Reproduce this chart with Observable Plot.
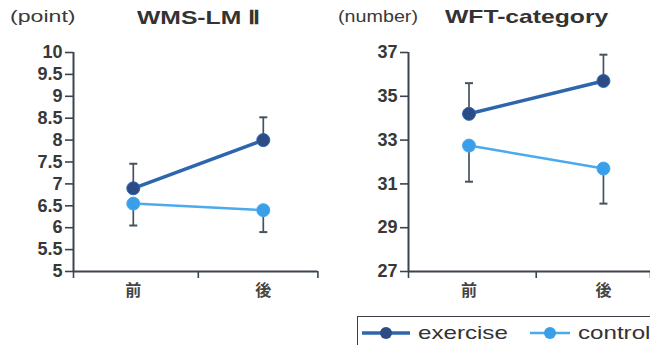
<!DOCTYPE html>
<html>
<head>
<meta charset="utf-8">
<script src="https://cdn.jsdelivr.net/npm/d3@7"></script>
<script src="https://cdn.jsdelivr.net/npm/@observablehq/plot@0.6"></script>
<style>
  body { margin: 0; background: #fff; }
  #fig { position: relative; width: 650px; height: 345px; overflow: hidden;
         font-family: "Liberation Sans", Arial, sans-serif; color: #333; }
  .panel { position: absolute; top: 0; }
  .unit { position: absolute; top: 7px; font-size: 17px; color: #3a3a3a; white-space: nowrap;
          transform: scaleX(1.36); transform-origin: left center; }
  .title { position: absolute; top: 6px; font-size: 19px; font-weight: bold; color: #333; white-space: nowrap;
           transform: scaleX(1.3); transform-origin: left center; }
  #legend { position: absolute; left: 357px; top: 316px; width: 310px; height: 40px;
            border: 1.5px solid #3a3f47; box-sizing: border-box; }
  .item { position: absolute; top: 5px; display: flex; align-items: center; font-size: 19px; color: #333; }
  .item svg { margin-right: 8px; }
  .item span { display: inline-block; transform: scaleX(1.27); transform-origin: left center; }
</style>
</head>
<body>
<div id="fig">
  <div class="panel" id="left"></div>
  <div class="panel" id="right" style="left:325px"></div>
  <div class="unit" style="left:10px">(point)</div>
  <div class="title" style="left:137px">WMS-LM Ⅱ</div>
  <div class="unit" style="left:338px; transform: scaleX(1.16)">(number)</div>
  <div class="title" style="left:445px">WFT-category</div>
  <div id="legend"></div>
</div>
<script>
// Measurement occasions and groups
const phases = ["前", "後"];
const groups = ["exercise", "control"];
const groupColors = ["#2e66ae", "#4aaaee"];
const dotColors = ["#2c4c86", "#3a9fe8"];

// WMS-LM II (points): mean and SD per occasion
const wmsExercise = [6.9, 8.0];
const wmsExerciseSD = [0.56, 0.52];
const wmsControl = [6.55, 6.4];
const wmsControlSD = [0.5, 0.5];
const wmsTicks = [5, 5.5, 6, 6.5, 7, 7.5, 8, 8.5, 9, 9.5, 10];

// WFT category fluency (number of words): mean and SD per occasion
const wftExercise = [34.2, 35.7];
const wftExerciseSD = [1.4, 1.2];
const wftControl = [32.75, 31.7];
const wftControlSD = [1.65, 1.6];
const wftTicks = [27, 29, 31, 33, 35, 37];

const axisColor = "#3a4450";
const errColor = "#45525f";

// horizontal cap drawn at the end of each error bar
const capSymbol = {
  draw(context, size) {
    const w = Math.sqrt(size / Math.PI);
    context.moveTo(-w, 0);
    context.lineTo(w, 0);
  }
};

// exercise bars point up, control bars point down
function rows(exMean, exSD, ctMean, ctSD) {
  const out = [];
  phases.forEach((p, i) => {
    out.push({x: i + 0.5, group: groups[0], mean: exMean[i], lo: exMean[i], hi: exMean[i] + exSD[i], cap: exMean[i] + exSD[i]});
    out.push({x: i + 0.5, group: groups[1], mean: ctMean[i], lo: ctMean[i] - ctSD[i], hi: ctMean[i], cap: ctMean[i] - ctSD[i]});
  });
  return out;
}

function panel({data, ticks, xDomain, marginLeft, marginRight}) {
  const yMin = ticks[0], yMax = ticks[ticks.length - 1];
  const byGroup = g => data.filter(d => d.group === g);
  const colorOf = g => groupColors[groups.indexOf(g)];
  const dotOf = g => dotColors[groups.indexOf(g)];
  const seriesMarks = [];
  for (const g of [groups[1], groups[0]]) {
    const d = byGroup(g);
    seriesMarks.push(
      Plot.ruleX(d, {x: "x", y1: "lo", y2: "hi", stroke: errColor, strokeWidth: 1.7}),
      Plot.dot(d, {x: "x", y: "cap", symbol: capSymbol, r: 4, stroke: errColor, strokeWidth: 2}),
      Plot.line(d, {x: "x", y: "mean", stroke: colorOf(g), strokeWidth: g === groups[0] ? 3.5 : 2.5}),
      Plot.dot(d, {x: "x", y: "mean", r: 6.5, fill: dotOf(g), stroke: colorOf(g), strokeWidth: 1})
    );
  }
  return Plot.plot({
    width: 325,
    height: 310,
    marginTop: 52,
    marginBottom: 39,
    marginLeft,
    marginRight,
    style: {fontFamily: "Liberation Sans, Arial, sans-serif", color: "#333", background: "transparent", overflow: "visible"},
    x: {type: "linear", domain: xDomain},
    y: {type: "linear", domain: [yMin, yMax]},
    marks: [
      Plot.axisY({ticks, tickSize: 8, tickPadding: 3, stroke: axisColor, strokeWidth: 1.6,
                  fontSize: 18, fontWeight: "bold", fill: "#383838", label: null, tickFormat: d => String(d)}),
      Plot.axisX({ticks: [xDomain[0], 1, xDomain[1]], tickSize: 7, stroke: axisColor, strokeWidth: 1.6,
                  tickFormat: () => "", label: null}),
      Plot.axisX({ticks: [0.5, 1.5], tickSize: 0, tickPadding: 13, fontSize: 16, fontWeight: "bold",
                  fontFamily: "Noto Sans CJK JP, sans-serif", fill: "#444",
                  tickFormat: d => phases[Math.round(d - 0.5)], label: null}),
      Plot.ruleX([xDomain[0]], {stroke: axisColor, strokeWidth: 2}),
      Plot.ruleY([yMin], {stroke: axisColor, strokeWidth: 2}),
      ...seriesMarks
    ]
  });
}

document.getElementById("left").append(panel({
  data: rows(wmsExercise, wmsExerciseSD, wmsControl, wmsControlSD),
  ticks: wmsTicks, xDomain: [0.04, 1.92], marginLeft: 73, marginRight: 7.6
}));
document.getElementById("right").append(panel({
  data: rows(wftExercise, wftExerciseSD, wftControl, wftControlSD),
  ticks: wftTicks, xDomain: [0.05, 1.85], marginLeft: 83, marginRight: 0
}));

// legend: line-and-dot swatch followed by group name
const legend = document.getElementById("legend");
const legendX = [4, 172];
groups.forEach((g, i) => {
  const item = document.createElement("div");
  item.className = "item";
  item.style.left = legendX[i] + "px";
  const w = i === 0 ? 48 : 40;
  item.innerHTML =
    `<svg width="${w}" height="20"><line x1="0" x2="${w}" y1="10" y2="10" stroke="${groupColors[i]}" stroke-width="${i === 0 ? 3.5 : 2.5}"/>` +
    `<circle cx="${w / 2}" cy="10" r="6" fill="${dotColors[i]}"/></svg><span>${g}</span>`;
  legend.append(item);
});
</script>
</body>
</html>
